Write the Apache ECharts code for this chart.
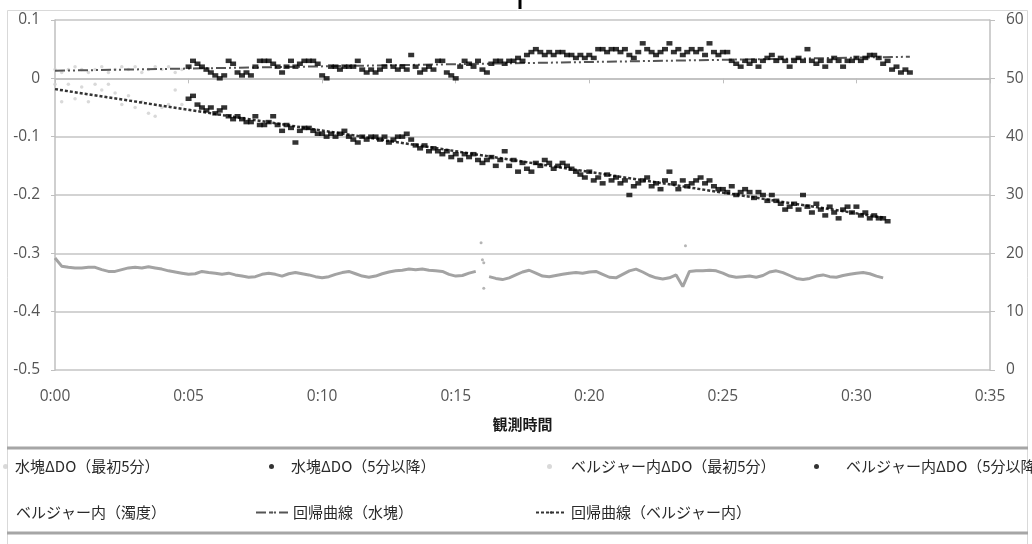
<!DOCTYPE html>
<html><head><meta charset="utf-8">
<script src="https://cdn.jsdelivr.net/npm/echarts@6/dist/echarts.min.js"></script>
<style>html,body{margin:0;padding:0;background:#fff}#c{width:1032px;height:544px}</style>
</head><body><div id="c"></div>
<script>
// ---- data ----
const xTickLabels = ['0:00','0:05','0:10','0:15','0:20','0:25','0:30','0:35'];
const seriesNames = ['水塊ΔDO（最初5分）','水塊ΔDO（5分以降）','ベルジャー内ΔDO（最初5分）','ベルジャー内ΔDO（5分以降）','ベルジャー内（濁度）','回帰曲線（水塊）','回帰曲線（ベルジャー内）'];

// first 5 minutes, sampled every 15 s (min)
const earlyStart = 0, earlyStep = 0.25;
const waterEarly = [0.015,0.01,0.015,0.02,0.015,0.01,0.015,0.02,0.01,0.015,0.02,0.015,0.02,0.01,0.015,0.02,0.015,0.02,0.01,0.015];
const jarEarly = [-0.01,-0.04,-0.01,-0.035,-0.015,-0.04,-0.01,-0.02,-0.01,-0.025,-0.045,-0.03,-0.05,-0.04,-0.06,-0.065,-0.05,-0.045,-0.02,-0.045];

// after 5 minutes, sampled every 10 s
const lateStart = 5, lateStep = 1/6;
const waterLate = [
 0.02,0.03,0.025,0.02,0.015,0.01,
 0.005,0.0,0.005,0.03,0.025,0.01,
 0.005,0.01,0.005,0.02,0.03,0.03,
 0.03,0.025,0.02,0.01,0.02,0.03,
 0.02,0.025,0.03,0.03,0.03,0.025,
 0.005,0.0,0.02,0.02,0.015,0.02,
 0.02,0.02,0.03,0.015,0.01,0.015,
 0.01,0.015,0.02,0.03,0.02,0.015,
 0.02,0.015,0.04,0.02,0.01,0.015,
 0.02,0.015,0.03,0.03,0.01,0.005,
 0.0,0.02,0.03,0.025,0.02,0.03,
 0.015,0.01,0.025,0.03,0.03,0.025,
 0.03,0.03,0.035,0.03,0.04,0.045,
 0.05,0.045,0.04,0.045,0.04,0.045,
 0.045,0.04,0.04,0.035,0.04,0.035,
 0.04,0.035,0.05,0.05,0.045,0.05,
 0.05,0.045,0.05,0.04,0.035,0.045,
 0.06,0.05,0.045,0.04,0.045,0.05,
 0.06,0.045,0.05,0.04,0.045,0.05,
 0.045,0.05,0.04,0.06,0.045,0.04,
 0.045,0.045,0.03,0.025,0.02,0.03,
 0.025,0.03,0.02,0.03,0.035,0.04,
 0.03,0.035,0.03,0.02,0.03,0.035,
 0.03,0.05,0.03,0.025,0.03,0.02,
 0.03,0.035,0.03,0.02,0.03,0.03,
 0.035,0.03,0.035,0.04,0.04,0.035,
 0.025,0.03,0.015,0.02,0.01,0.015,
 0.01];
const jarLate = [
 -0.035,-0.03,-0.045,-0.05,-0.055,-0.05,
 -0.06,-0.055,-0.05,-0.065,-0.07,-0.065,
 -0.07,-0.075,-0.075,-0.065,-0.08,-0.08,
 -0.075,-0.065,-0.08,-0.09,-0.08,-0.085,
 -0.11,-0.09,-0.085,-0.085,-0.09,-0.095,
 -0.095,-0.1,-0.095,-0.1,-0.095,-0.09,
 -0.1,-0.105,-0.11,-0.1,-0.105,-0.1,
 -0.1,-0.105,-0.1,-0.11,-0.105,-0.1,
 -0.1,-0.095,-0.105,-0.115,-0.12,-0.115,
 -0.125,-0.12,-0.125,-0.13,-0.125,-0.135,
 -0.13,-0.14,-0.13,-0.135,-0.13,-0.14,
 -0.145,-0.14,-0.135,-0.15,-0.14,-0.125,
 -0.15,-0.14,-0.16,-0.145,-0.155,-0.16,
 -0.145,-0.15,-0.14,-0.145,-0.155,-0.15,
 -0.145,-0.15,-0.155,-0.16,-0.165,-0.17,
 -0.16,-0.175,-0.17,-0.18,-0.165,-0.175,
 -0.17,-0.18,-0.175,-0.2,-0.185,-0.18,
 -0.175,-0.17,-0.185,-0.18,-0.19,-0.175,
 -0.16,-0.18,-0.19,-0.175,-0.185,-0.18,
 -0.175,-0.17,-0.18,-0.175,-0.185,-0.19,
 -0.19,-0.195,-0.185,-0.2,-0.195,-0.19,
 -0.195,-0.205,-0.195,-0.2,-0.21,-0.2,
 -0.21,-0.215,-0.225,-0.22,-0.215,-0.225,
 -0.2,-0.22,-0.23,-0.215,-0.225,-0.235,
 -0.22,-0.23,-0.24,-0.225,-0.22,-0.23,
 -0.22,-0.235,-0.23,-0.24,-0.235,-0.24,
 -0.24,-0.245];

// turbidity (right axis), sampled every 15 s, null = gap
const turbStart = 0, turbStep = 0.25;
const turbidity = [
 19.2,17.8,17.6,17.5,17.5,17.6,17.6,17.2,16.9,16.9,17.2,17.5,17.6,17.5,17.7,17.5,17.3,17.0,16.8,16.6,
 16.4,16.5,16.9,16.7,16.6,16.4,16.6,16.3,16.1,15.9,16.0,16.4,16.6,16.4,16.1,16.5,16.7,16.5,16.3,16.0,
 15.8,16.0,16.4,16.7,16.9,16.5,16.1,15.9,16.1,16.5,16.8,17.0,17.1,17.3,17.2,17.3,17.1,17.0,16.9,16.4,
 16.1,16.2,16.6,16.9,null,16.0,15.7,15.5,15.8,16.3,16.8,17.1,16.6,16.1,16.0,16.2,16.4,16.6,16.7,16.6,
 16.8,16.9,16.4,15.9,15.8,16.4,17.0,17.3,16.8,16.2,15.8,15.6,15.8,16.3,14.3,16.9,17.0,17.0,17.1,17.0,
 16.6,16.1,15.9,16.0,16.1,15.9,16.2,16.8,17.0,16.7,16.2,15.7,15.5,15.7,16.1,16.3,16.0,15.9,16.2,16.4,
 16.6,16.7,16.5,16.1,15.8];
const turbSpikeT = [15.95,16.0,16.05,16.05,23.6];
const turbSpikeV = [21.8,18.9,18.4,14.0,21.3];

// regression lines (end points)
const regWaterT = [0,32], regWaterV = [0.013,0.037];
const regJarT = [0,31], regJarV = [-0.0185,-0.2385];

// ---- build ----
const toPairs = (start, step, arr) => arr.map((v,i) => [start + i*step, v]);
const zipPairs = (ts, vs) => ts.map((t,i) => [t, vs[i]]);

const FONT = "'Open Sans','Noto Sans CJK JP',sans-serif";
const LEG = "'Noto Sans CJK JP','Open Sans',sans-serif";
const chart = echarts.init(document.getElementById('c'), null, {renderer:'canvas'});

function legend(name, left, top, w, h, padLeft, icon) {
  const item = icon ? {name:name, icon:icon} : {name:name};
  return {
    data:[item], left:left, top:top, itemWidth:w, itemHeight:h, padding:0,
    textStyle:{fontFamily:LEG, fontSize:15, color:'#2a2a2a', padding:[0,0,0,padLeft]},
    selectedMode:false
  };
}

chart.setOption({
  animation:false,
  backgroundColor:'#fff',
  grid:{left:55, right:42, top:20, bottom:174, containLabel:false},
  xAxis:{
    type:'value', min:0, max:35, interval:5,
    name:'観測時間', nameLocation:'middle', nameGap:47,
    nameTextStyle:{fontFamily:LEG, fontSize:15, fontWeight:'bold', color:'#1a1a1a'},
    axisLine:{show:true, lineStyle:{color:'#bfbfbf', width:1.5}},
    axisTick:{show:true, length:5, lineStyle:{color:'#bfbfbf'}},
    axisLabel:{margin:19, fontFamily:FONT, fontSize:15.5, color:'#555',
      formatter:v => xTickLabels[Math.round(v/5)]},
    splitLine:{show:false}
  },
  yAxis:[{
    type:'value', min:-0.5, max:0.1, interval:0.1, position:'left',
    axisLine:{show:true, lineStyle:{color:'#bfbfbf', width:1.5}},
    axisTick:{show:true, length:4, lineStyle:{color:'#bfbfbf'}},
    axisLabel:{margin:15, fontFamily:FONT, fontSize:15.5, color:'#555',
      formatter:v => String(+v.toFixed(1))},
    splitLine:{show:true, lineStyle:{color:'#c4c4c4', width:1.5}}
  },{
    type:'value', min:0, max:60, interval:10, position:'right',
    axisLine:{show:true, lineStyle:{color:'#bfbfbf', width:1.5}},
    axisTick:{show:true, length:5, lineStyle:{color:'#bfbfbf'}},
    axisLabel:{margin:16, fontFamily:FONT, fontSize:15.5, color:'#555'},
    splitLine:{show:false}
  }],
  legend:[
    legend(seriesNames[0], 3, 459, 5, 5, 2, 'circle'),
    legend(seriesNames[1], 269, 459, 5, 5, 12, 'circle'),
    legend(seriesNames[2], 547, 459, 5, 5, 14, 'circle'),
    legend(seriesNames[3], 814, 459, 5, 5, 22, 'circle'),
    legend(seriesNames[4], -40, 505, 25, 3, 25),
    legend(seriesNames[5], 255, 505, 32, 3, 0),
    legend(seriesNames[6], 535, 505, 30, 3, 0)
  ],
  graphic:[
    {type:'rect', silent:true, z:-1, shape:{x:7.5,y:10.5,width:1020,height:540}, style:{fill:null, stroke:'#d9d9d9', lineWidth:1}},
    {type:'line', silent:true, shape:{x1:7,y1:448,x2:1028,y2:448}, style:{stroke:'#a6a6a6', lineWidth:3}},
    {type:'line', silent:true, shape:{x1:7,y1:533,x2:1028,y2:533}, style:{stroke:'#a6a6a6', lineWidth:3}},
    {type:'line', silent:true, shape:{x1:520,y1:0,x2:520,y2:9}, style:{stroke:'#000', lineWidth:3}}
  ],
  series:[
    {name:seriesNames[0], type:'scatter', yAxisIndex:0, symbol:'circle', symbolSize:3.5,
      itemStyle:{color:'#cfcfcf'}, z:2, data:toPairs(earlyStart, earlyStep, waterEarly)},
    {name:seriesNames[1], type:'scatter', yAxisIndex:0, symbol:'rect', symbolSize:[6,4.5],
      itemStyle:{color:'#000'}, z:5, data:toPairs(lateStart, lateStep, waterLate)},
    {name:seriesNames[2], type:'scatter', yAxisIndex:0, symbol:'circle', symbolSize:3.5,
      itemStyle:{color:'#cfcfcf'}, z:2, data:toPairs(earlyStart, earlyStep, jarEarly)},
    {name:seriesNames[3], type:'scatter', yAxisIndex:0, symbol:'rect', symbolSize:[6,4.5],
      itemStyle:{color:'#000'}, z:5, data:toPairs(lateStart, lateStep, jarLate)},
    {name:seriesNames[4], type:'line', yAxisIndex:1, symbol:'none', showSymbol:false, connectNulls:false,
      lineStyle:{color:'#a3a3a3', width:3}, itemStyle:{color:'#a3a3a3'}, z:3,
      data:toPairs(turbStart, turbStep, turbidity)},
    {type:'scatter', yAxisIndex:1, symbol:'circle', symbolSize:3, itemStyle:{color:'#a3a3a3'}, z:3,
      data:zipPairs(turbSpikeT, turbSpikeV)},
    {name:seriesNames[5], type:'line', yAxisIndex:0, symbol:'none', showSymbol:false,
      lineStyle:{color:'#555', width:2, type:[10,3,2,3,2,3]}, itemStyle:{color:'#555'}, z:4,
      data:zipPairs(regWaterT, regWaterV)},
    {name:seriesNames[6], type:'line', yAxisIndex:0, symbol:'none', showSymbol:false,
      lineStyle:{color:'#333', width:2.5, type:[3,2]}, itemStyle:{color:'#333'}, z:4,
      data:zipPairs(regJarT, regJarV)}
  ]
});
</script></body></html>
